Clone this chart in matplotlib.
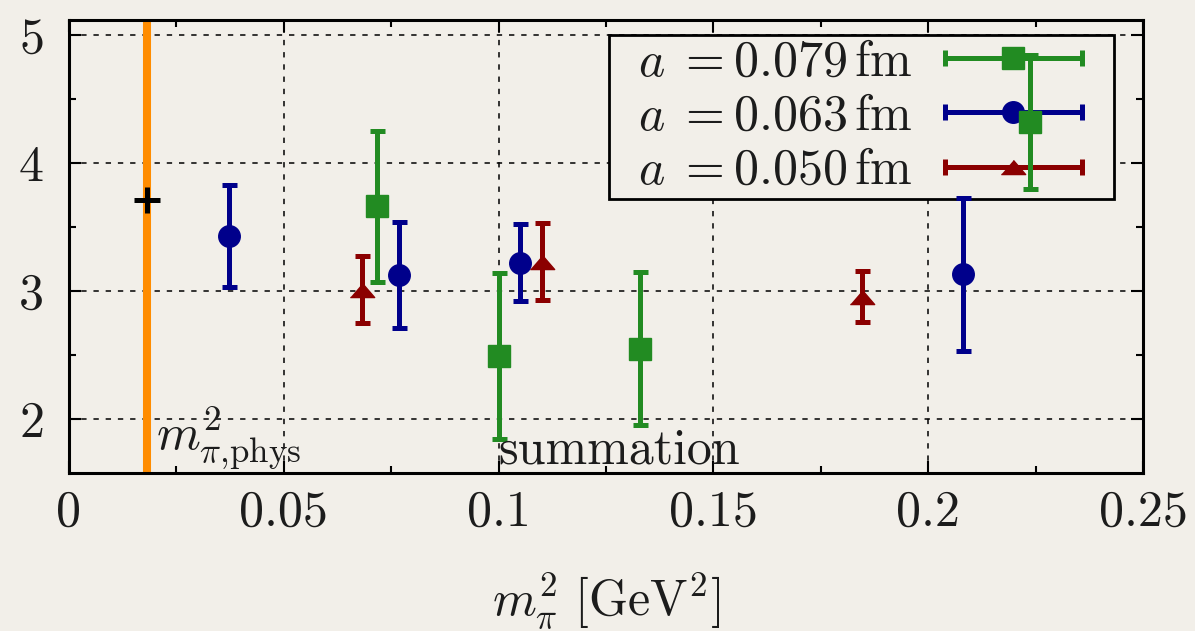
import numpy as np
import matplotlib
matplotlib.use("Agg")
import matplotlib.pyplot as plt
from matplotlib.ticker import MultipleLocator, FuncFormatter
from matplotlib.legend_handler import HandlerBase
from matplotlib.lines import Line2D

plt.rcParams['font.family'] = 'serif'
plt.rcParams['font.serif'] = ['cmr10']
plt.rcParams['mathtext.fontset'] = 'cm'
plt.rcParams['axes.unicode_minus'] = False
plt.rcParams['axes.formatter.use_mathtext'] = True

# data
x_079 = [0.0718, 0.1001, 0.1329, 0.2237]
y_079 = [3.66, 2.49, 2.55, 4.32]
e_079 = [0.59, 0.65, 0.60, 0.52]

x_063 = [0.0372, 0.0767, 0.1050, 0.2082]
y_063 = [3.43, 3.125, 3.22, 3.13]
e_063 = [0.40, 0.415, 0.30, 0.60]

x_050 = [0.0683, 0.1100, 0.1847]
y_050 = [3.01, 3.23, 2.955]
e_050 = [0.26, 0.30, 0.20]

x_phys = 0.0182
y_phys = 3.71

labels = [r'$\;\;a\;=0.079\,\mathrm{fm}$',
          r'$\;\;a\;=0.063\,\mathrm{fm}$',
          r'$\;\;a\;=0.050\,\mathrm{fm}$']

BG = '#f2efe9'
TXT = '#1c1c1c'
GREEN = '#228b22'
BLUE = '#00008b'
RED = '#8b0000'
ORANGE = '#ff8c00'
FS = 36
LW = 3.6
TRI = [(-1, -0.58), (1, -0.58), (0, 0.58)]
RPAD = 28 * 72 / 100  # blank space right of the legend handle, in points


class HandlerHErr(HandlerBase):
    # horizontal error bar with caps and the marker in the middle
    def create_artists(self, legend, orig, xd, yd, width, height, fontsize, trans):
        y = (height - yd) / 2
        x0, x1 = -xd, -xd + width - RPAD
        bar = Line2D([x0, x1], [y, y], color=orig.get_color(), lw=LW)
        caps = Line2D([x0, x1], [y, y], ls='none', marker='|', ms=11,
                      mew=LW, color=orig.get_color())
        mk = Line2D([(x0 + x1) / 2], [y], ls='none', marker=orig.get_marker(),
                    ms=orig.get_markersize(), color=orig.get_color())
        for a in (bar, caps, mk):
            a.set_transform(trans)
        return [bar, caps, mk]


fig = plt.figure(figsize=(11.95, 6.31), dpi=100, facecolor=BG)
ax = fig.add_axes([69 / 1195, 1 - 473 / 631, (1143 - 69) / 1195, (473 - 20) / 631])
ax.set_facecolor(BG)

ax.axvline(x_phys, color=ORANGE, lw=5.8, zorder=2)
ax.plot([x_phys], [y_phys], ls='none', marker='+', ms=19, mew=3.6, color='black', zorder=3)

kw = dict(ls='none', elinewidth=LW, capsize=5.4, capthick=LW, zorder=4)
ax.errorbar(x_063, y_063, yerr=e_063, marker='o', ms=15.5, color=BLUE, **kw)
ax.errorbar(x_050, y_050, yerr=e_050, marker=TRI, ms=17.5, color=RED, **kw)
ax.errorbar(x_079, y_079, yerr=e_079, marker='s', ms=16, color=GREEN, **kw)

ax.text(0.0203, 1.76, r'$m^2_{\pi{,}\mathrm{phys}}$', fontsize=FS, color=TXT, zorder=6)
ax.text(0.1, 1.65, 'summation', fontsize=FS, color=TXT, zorder=6)

ax.set_xlim(0, 0.25)
ax.set_ylim(1.578, 5.117)
ax.xaxis.set_major_locator(MultipleLocator(0.05))
ax.xaxis.set_minor_locator(MultipleLocator(0.025))
ax.yaxis.set_major_locator(MultipleLocator(1))
ax.yaxis.set_minor_locator(MultipleLocator(0.5))
ax.xaxis.set_major_formatter(FuncFormatter(lambda v, p: '%g' % round(v, 3)))
ax.yaxis.set_major_formatter(FuncFormatter(lambda v, p: '%g' % v))
ax.tick_params(which='both', direction='in', top=True, right=True,
               width=1.5, color='black', labelcolor=TXT, labelsize=FS)
ax.tick_params(which='major', length=8.6)
ax.tick_params(which='minor', length=5)
ax.tick_params(axis='x', pad=12)
ax.tick_params(axis='y', pad=18)
for s in ax.spines.values():
    s.set_linewidth(2.2)

ax.set_axisbelow(True)
ax.grid(True, which='major', color='black', lw=1.1, ls=(0, (3.5, 4.5)))

ax.set_xlabel(r'$m_\pi^2\ [\mathrm{GeV}^2]$', fontsize=FS, color=TXT)
ax.xaxis.set_label_coords(0.5, -0.215)

proxies = [Line2D([], [], color=GREEN, marker='s', ms=16),
           Line2D([], [], color=BLUE, marker='o', ms=15.5),
           Line2D([], [], color=RED, marker=TRI, ms=17.5)]
leg = ax.legend(proxies, labels, handler_map={Line2D: HandlerHErr()},
                loc='upper right', bbox_to_anchor=(1114 / 1195, 1 - 35 / 631),
                bbox_transform=fig.transFigure, borderaxespad=0,
                markerfirst=False, fontsize=FS, handlelength=3.3,
                handletextpad=0.64, borderpad=0.09, labelspacing=0.17,
                fancybox=False, framealpha=1, facecolor=BG, edgecolor='black',
                labelcolor=TXT)
leg.get_frame().set_linewidth(2)
leg.set_zorder(3.5)

fig.savefig('out.png', dpi=100, facecolor=BG)
